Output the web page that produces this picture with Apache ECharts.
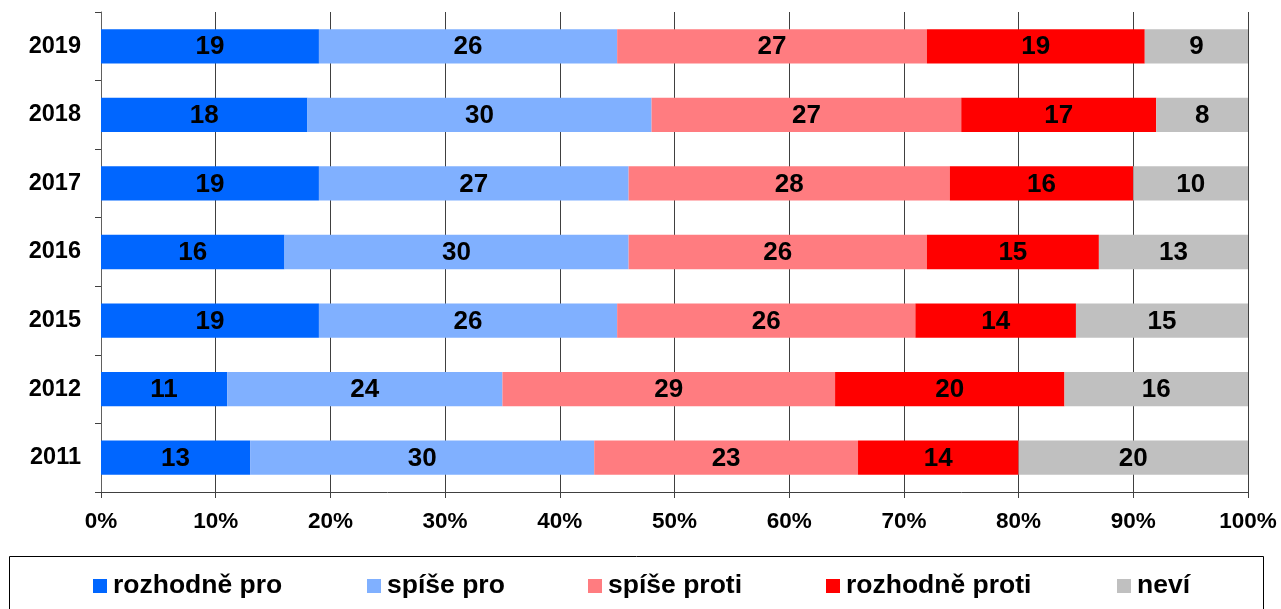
<!DOCTYPE html>
<html>
<head>
<meta charset="utf-8">
<script src="https://cdn.jsdelivr.net/npm/echarts@6/dist/echarts.min.js"></script>
<style>
html,body{margin:0;padding:0;background:#fff;}
#c{width:1281px;height:609px;}
</style>
</head>
<body>
<div id="c"></div>
<script>
const years = ['2011','2012','2015','2016','2017','2018','2019'];
const seriesNames = ['rozhodně pro','spíše pro','spíše proti','rozhodně proti','neví'];
const rozhodnePro   = [13, 11, 19, 16, 19, 18, 19];
const spisePro      = [30, 24, 26, 30, 27, 30, 26];
const spiseProti    = [23, 29, 26, 26, 28, 27, 27];
const rozhodneProti = [14, 20, 14, 15, 16, 17, 19];
const nevi          = [20, 16, 15, 13, 10, 8, 9];
const colors = ['#0066FF','#80B0FF','#FF7C80','#FF0000','#C0C0C0'];
const values = [rozhodnePro, spisePro, spiseProti, rozhodneProti, nevi];
const legendLefts = [93, 367, 588, 826, 1117];

const chart = echarts.init(document.getElementById('c'));
const font = 'Liberation Sans, Arial, sans-serif';
chart.setOption({
  animation: false,
  color: colors,
  textStyle: {fontFamily: font},
  grid: {left: 101, right: 33, top: 12, bottom: 117, containLabel: false},
  xAxis: {
    type: 'value', min: 0, max: 100, interval: 10,
    axisLine: {show: true, lineStyle: {color: '#404040', width: 1}},
    axisTick: {show: true, length: 6, lineStyle: {color: '#404040'}},
    axisLabel: {formatter: '{value}%', color: '#000', fontWeight: 'bold', fontSize: 22.5, margin: 18, fontFamily: font},
    splitLine: {show: true, lineStyle: {color: '#404040', width: 1}}
  },
  yAxis: {
    type: 'category', data: years,
    axisLine: {show: true, lineStyle: {color: '#606060', width: 1}},
    axisTick: {show: true, length: 6, lineStyle: {color: '#404040'}},
    axisLabel: {color: '#000', fontWeight: 'bold', fontSize: 23.5, margin: 20, fontFamily: font}
  },
  legend: seriesNames.map((n, i) => ({
    data: [n], left: legendLefts[i], top: 571,
    itemWidth: 14, itemHeight: 14, itemGap: 0, icon: 'rect',
    textStyle: {color: '#000', fontWeight: 'bold', fontSize: 26.5, lineHeight: 30, fontFamily: font, padding: [0,0,0,1]},
    padding: 0
  })),
  graphic: [{
    type: 'rect', shape: {x: 9.5, y: 556.5, width: 1254, height: 70},
    style: {fill: 'none', stroke: '#000', lineWidth: 1}, z: -1
  }],
  series: seriesNames.map((n, i) => ({
    name: n, type: 'bar', stack: 'total', data: values[i],
    barCategoryGap: '50%',
    itemStyle: {color: colors[i]},
    label: {show: true, position: 'inside', color: '#000', fontWeight: 'bold', fontSize: 26, fontFamily: font, offset: [0, 1]}
  }))
});
</script>
</body>
</html>
